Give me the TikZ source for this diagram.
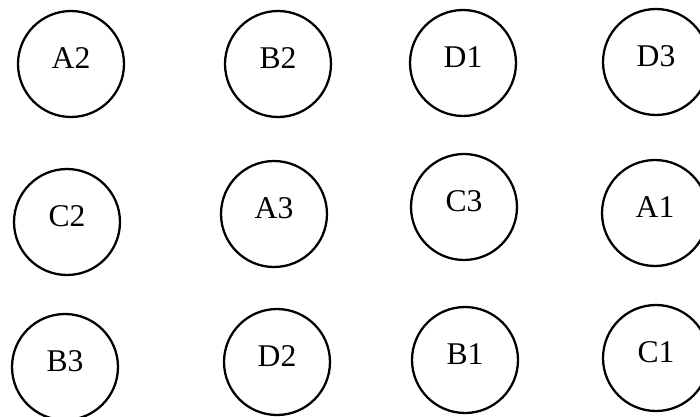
\documentclass[tikz,border=0pt]{standalone}
\usepackage{fontspec}
\setmainfont{Liberation Serif}
\begin{document}
\begin{tikzpicture}[x=0.02cm, y=-0.02cm, font=\fontsize{18}{20}\selectfont,
  seat/.style={draw, circle, line width=1.3pt, minimum size=2.12cm, inner sep=0pt,
    text height=12pt, text depth=6.8pt}]
  \useasboundingbox (0,0) rectangle (700,416);
  \clip (0,0) rectangle (700,416);
  % first row
  \node[seat] (A2) at (71,64) {A2};
  \node[seat] (B2) at (278,64) {B2};
  \node[seat] (D1) at (463,63) {D1};
  \node[seat] (D3) at (656,62) {D3};
  % second row
  \node[seat] (C2) at (67,222) {C2};
  \node[seat] (A3) at (274,214) {A3};
  \node[seat] (C3) at (464,207) {C3};
  \node[seat] (A1) at (655,213) {A1};
  % third row
  \node[seat] (B3) at (65,367) {B3};
  \node[seat] (D2) at (277,362) {D2};
  \node[seat] (B1) at (465,360) {B1};
  \node[seat] (C1) at (656,358) {C1};
\end{tikzpicture}
\end{document}
